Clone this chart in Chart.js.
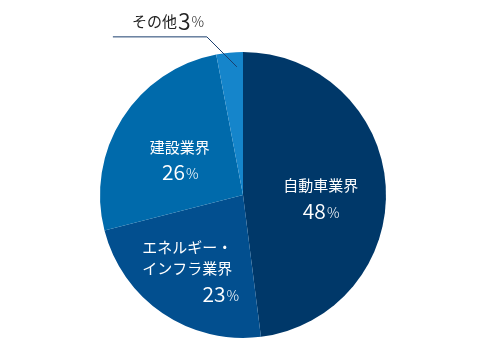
<!DOCTYPE html>
<html>
<head>
<meta charset="utf-8">
<script src="https://cdn.jsdelivr.net/npm/chart.js@4"></script>
<style>
  html, body { margin: 0; padding: 0; background: #fff; }
  #wrap { width: 480px; height: 360px; }
</style>
</head>
<body>
<div id="wrap"><canvas id="shareChart"></canvas></div>
<script>
// 業界別構成比
const categories = ['自動車業界', 'エネルギー・インフラ業界', '建設業界', 'その他'];
const shares = [48, 23, 26, 3];
const sliceColors = ['#003869', '#024f8f', '#006aab', '#1585cb'];

const FONT = '"Noto Sans CJK JP", "Noto Sans", sans-serif';

// label text lines per slice (name lines, value under them)
const labelLines = [
  ['自動車業界'],
  ['エネルギー・', 'インフラ業界'],
  ['建設業界'],
  []
];

function drawValue(ctx, x, y, value, numSize, align) {
  const num = String(value);
  ctx.font = '350 ' + numSize + 'px ' + FONT;
  const w1 = ctx.measureText(num).width;
  ctx.font = '300 14px ' + FONT;
  const w2 = ctx.measureText('%').width;
  let left = x - (w1 + w2) / 2;
  if (align === 'right') left = x - (w1 + w2);
  if (align === 'left') left = x;
  ctx.textAlign = 'left';
  ctx.font = '350 ' + numSize + 'px ' + FONT;
  ctx.fillText(num, left, y);
  ctx.font = '300 14px ' + FONT;
  ctx.fillText('%', left + w1 + 1, y + 1);
}

const pieLabels = {
  id: 'pieLabels',
  afterDatasetsDraw(chart) {
    const ctx = chart.ctx;
    const arcs = chart.getDatasetMeta(0).data;
    ctx.save();
    ctx.textBaseline = 'middle';
    ctx.fillStyle = '#ffffff';

    const anchor = (i, frac) => {
      const a = arcs[i];
      const mid = (a.startAngle + a.endAngle) / 2;
      const r = a.outerRadius * frac;
      return { x: a.x + Math.cos(mid) * r, y: a.y + Math.sin(mid) * r };
    };

    // 自動車業界
    let p = anchor(0, 0.53);
    ctx.font = '15px ' + FONT;
    ctx.textAlign = 'center';
    ctx.fillText(labelLines[0][0], p.x + 2, p.y - 5);
    drawValue(ctx, p.x + 2, p.y + 21, shares[0], 21, 'center');

    // エネルギー・インフラ業界
    p = anchor(1, 0.62);
    ctx.font = '15px ' + FONT;
    ctx.textAlign = 'left';
    ctx.fillText(labelLines[1][0], p.x - 51, p.y - 21);
    ctx.fillText(labelLines[1][1], p.x - 51, p.y);
    drawValue(ctx, p.x + 45, p.y + 26, shares[1], 21, 'right');

    // 建設業界
    p = anchor(2, 0.49);
    ctx.font = '15px ' + FONT;
    ctx.textAlign = 'center';
    ctx.fillText(labelLines[2][0], p.x - 4, p.y - 10);
    drawValue(ctx, p.x - 4, p.y + 15, shares[2], 21, 'center');

    // その他 (outside, leader line)
    p = anchor(3, 0.9);
    const endX = p.x + 6, endY = p.y;
    const elbowX = endX - 30, elbowY = endY - 30;
    ctx.strokeStyle = '#1b3f6e';
    ctx.lineWidth = 1;
    ctx.beginPath();
    ctx.moveTo(endX, endY);
    ctx.lineTo(elbowX, elbowY);
    ctx.lineTo(elbowX - 94, elbowY);
    ctx.stroke();

    ctx.fillStyle = '#222222';
    ctx.font = '15px ' + FONT;
    ctx.textAlign = 'right';
    ctx.fillText(categories[3], elbowX - 30, elbowY - 16);
    drawValue(ctx, elbowX - 29, elbowY - 16, shares[3], 23, 'left');
    ctx.restore();
  }
};

new Chart(document.getElementById('shareChart').getContext('2d'), {
  type: 'pie',
  data: {
    labels: categories,
    datasets: [{
      data: shares,
      backgroundColor: sliceColors,
      borderWidth: 0
    }]
  },
  options: {
    responsive: true,
    maintainAspectRatio: false,
    animation: false,
    layout: { padding: { top: 52, bottom: 22, left: 6, right: 0 } },
    plugins: {
      legend: { display: false },
      tooltip: { enabled: false }
    }
  },
  plugins: [pieLabels]
});
</script>
</body>
</html>
